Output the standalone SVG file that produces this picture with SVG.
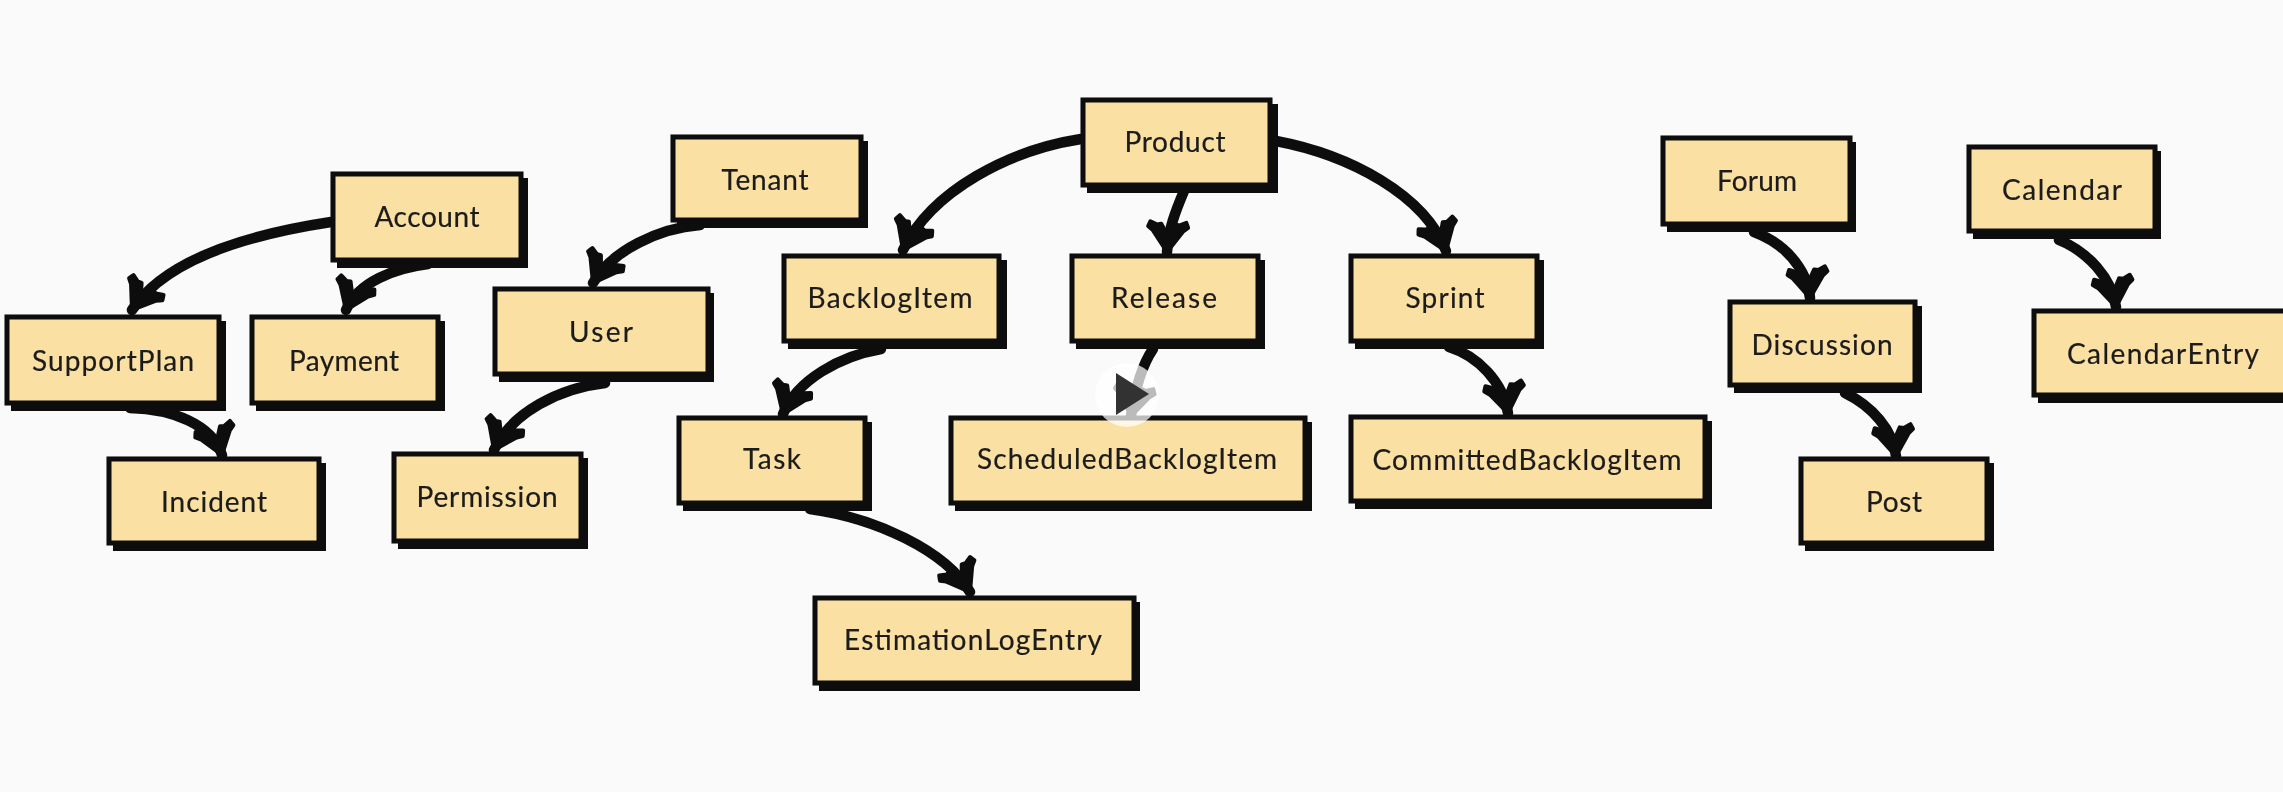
<svg xmlns="http://www.w3.org/2000/svg" width="2283" height="792" viewBox="0 0 2283 792">
<style>
.s{fill:#0a0a0a}
.b{fill:#fae0a2;stroke:#0d0d0d;stroke-width:5}
text{font-family:Lato,"Open Sans",sans-serif;font-size:28px;fill:#1a1a1a;stroke:#1a1a1a;stroke-width:0.2;text-anchor:middle}
.c{fill:none;stroke:#0d0d0d;stroke-width:10.5;stroke-linecap:round;marker-end:url(#arrow)}
</style>
<defs>
<filter id="soft" filterUnits="userSpaceOnUse" x="0" y="0" width="2283" height="792"><feGaussianBlur stdDeviation="0.6"/></filter>
<marker id="arrow" markerUnits="userSpaceOnUse" markerWidth="50" markerHeight="50" refX="38" refY="25" orient="auto">
<path d="M8,7 L13,5 L17,10 L38,25 L17,40 L13,45 L8,43 L11,36 L10,32 L22,25 L10,18 L11,14 Z" fill="#0d0d0d" stroke="#0d0d0d" stroke-width="4" stroke-linejoin="round"/>
</marker>
</defs>
<rect width="2283" height="792" fill="#fafafa"/>
<g filter="url(#soft)">
<g id="connectors">
<path class="c" d="M331,222 C245,235 165,260 132,310"/>
<path class="c" d="M428,264 C395,268 358,282 346,310"/>
<path class="c" d="M130,408 C172,409 212,424 222,455"/>
<path class="c" d="M700,225 C660,228 612,250 593,283"/>
<path class="c" d="M605,383 C560,388 512,412 494,450"/>
<path class="c" d="M1081,139 C1010,150 932,190 903,250"/>
<path class="c" d="M1184,191 C1176,210 1168,230 1167,252"/>
<path class="c" d="M1276,141 C1350,155 1425,195 1446,251"/>
<path class="c" d="M881,349 C840,356 797,380 783,414"/>
<path class="c" d="M1153,349 C1142,365 1135,390 1131,416"/>
<path class="c" d="M810,509 C875,518 945,550 970,592"/>
<path class="c" d="M1449,347 C1478,356 1503,382 1508,413"/>
<path class="c" d="M1754,232 C1784,243 1807,268 1810,298"/>
<path class="c" d="M1845,393 C1872,406 1893,430 1896,456"/>
<path class="c" d="M2059,240 C2088,252 2112,278 2116,307"/>
</g>
<g id="Account"><rect class="s" x="337" y="178" width="191" height="90"/><rect class="b" x="333" y="174" width="188" height="86"/><text x="427" y="227" textLength="105">Account</text></g>
<g id="SupportPlan"><rect class="s" x="11" y="321" width="215" height="90"/><rect class="b" x="7" y="317" width="212" height="86"/><text x="113" y="371" textLength="162">SupportPlan</text></g>
<g id="Payment"><rect class="s" x="256" y="321" width="189" height="90"/><rect class="b" x="252" y="317" width="186" height="86"/><text x="344" y="371" textLength="110">Payment</text></g>
<g id="Incident"><rect class="s" x="113" y="463" width="213" height="88"/><rect class="b" x="109" y="459" width="210" height="84"/><text x="214" y="512" textLength="106">Incident</text></g>
<g id="Permission"><rect class="s" x="398" y="458" width="190" height="91"/><rect class="b" x="394" y="454" width="187" height="87"/><text x="487" y="507" textLength="141">Permission</text></g>
<g id="User"><rect class="s" x="499" y="293" width="215" height="89"/><rect class="b" x="495" y="289" width="213" height="85"/><text x="601" y="342" textLength="64">User</text></g>
<g id="Tenant"><rect class="s" x="677" y="141" width="191" height="87"/><rect class="b" x="673" y="137" width="188" height="83"/><text x="765" y="190" textLength="87">Tenant</text></g>
<g id="Product"><rect class="s" x="1087" y="104" width="191" height="89"/><rect class="b" x="1083" y="100" width="187" height="85"/><text x="1175" y="152" textLength="101">Product</text></g>
<g id="BacklogItem"><rect class="s" x="788" y="260" width="219" height="89"/><rect class="b" x="784" y="256" width="215" height="85"/><text x="890" y="308" textLength="165">BacklogItem</text></g>
<g id="Release"><rect class="s" x="1076" y="260" width="189" height="89"/><rect class="b" x="1072" y="256" width="186" height="85"/><text x="1164" y="308" textLength="106">Release</text></g>
<g id="Task"><rect class="s" x="683" y="422" width="189" height="89"/><rect class="b" x="679" y="418" width="186" height="85"/><text x="772" y="469" textLength="58">Task</text></g>
<g id="ScheduledBacklogItem"><rect class="s" x="955" y="422" width="357" height="89"/><rect class="b" x="951" y="418" width="354" height="85"/><text x="1127" y="469" textLength="300">ScheduledBacklogItem</text></g>
<g id="EstimationLogEntry"><rect class="s" x="819" y="602" width="321" height="89"/><rect class="b" x="815" y="598" width="319" height="85"/><text x="973" y="650" textLength="258">EstimationLogEntry</text></g>
<g id="Sprint"><rect class="s" x="1355" y="260" width="189" height="89"/><rect class="b" x="1351" y="256" width="186" height="85"/><text x="1445" y="308" textLength="79">Sprint</text></g>
<g id="CommittedBacklogItem"><rect class="s" x="1355" y="421" width="357" height="88"/><rect class="b" x="1351" y="417" width="354" height="84"/><text x="1527" y="470" textLength="309">CommittedBacklogItem</text></g>
<g id="Forum"><rect class="s" x="1667" y="142" width="189" height="90"/><rect class="b" x="1663" y="138" width="187" height="86"/><text x="1757" y="191" textLength="80">Forum</text></g>
<g id="Calendar"><rect class="s" x="1973" y="151" width="188" height="88"/><rect class="b" x="1969" y="147" width="186" height="84"/><text x="2062" y="200" textLength="120">Calendar</text></g>
<g id="Discussion"><rect class="s" x="1734" y="306" width="188" height="87"/><rect class="b" x="1730" y="302" width="185" height="83"/><text x="1822" y="355" textLength="141">Discussion</text></g>
<g id="Post"><rect class="s" x="1805" y="463" width="189" height="88"/><rect class="b" x="1801" y="459" width="186" height="84"/><text x="1894" y="512" textLength="56">Post</text></g>
<g id="CalendarEntry"><rect class="s" x="2038" y="315" width="251" height="88"/><rect class="b" x="2034" y="311" width="258" height="84"/><text x="2163" y="364" textLength="192">CalendarEntry</text></g>
<g id="play"><circle cx="1127" cy="395" r="32" fill="#fff" fill-opacity="0.72"/><polygon points="1116,373 1149,394 1116,415" fill="#333"/></g>
</g>
</svg>
